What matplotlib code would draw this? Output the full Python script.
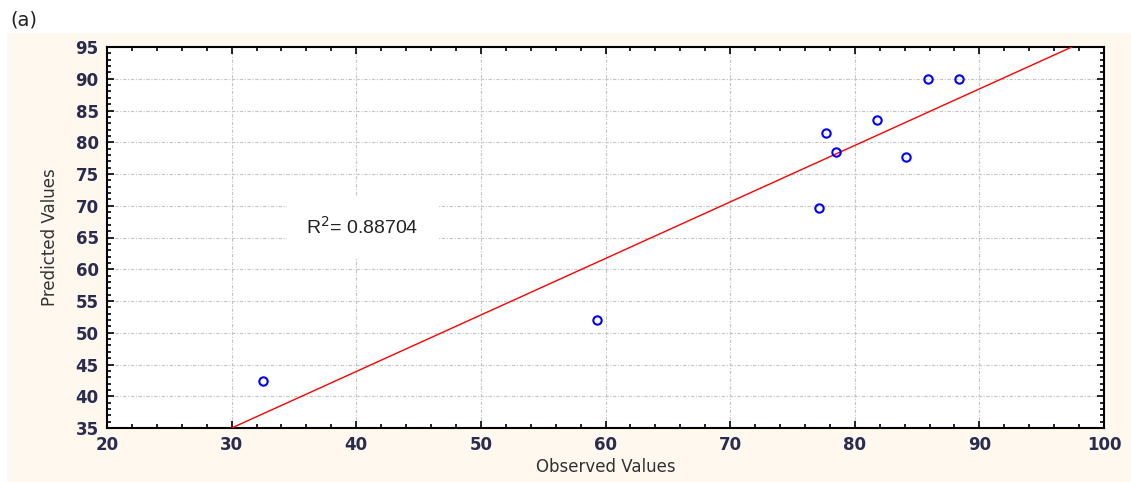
import matplotlib
matplotlib.use("agg")
import matplotlib.pyplot as plt
from matplotlib.patches import Rectangle
from matplotlib.ticker import MultipleLocator
import numpy as np

# observed vs predicted values
observed = [32.5, 59.3, 77.1, 77.7, 78.5, 81.8, 84.1, 85.9, 88.4]
predicted = [42.4, 52.0, 69.6, 81.5, 78.5, 83.5, 77.7, 90.0, 90.0]

fit_slope = 0.89
fit_intercept = 8.3
r2_label = "R$^2$= 0.88704"

x_ticks = [20, 30, 40, 50, 60, 70, 80, 90, 100]
y_ticks = [35, 40, 45, 50, 55, 60, 65, 70, 75, 80, 85, 90, 95]

tick_col = "#2b2b4f"

fig = plt.figure(figsize=(11.31, 4.82), dpi=100)
fig.patch.set_facecolor("white")
# cream panel behind the plot
fig.patches.append(Rectangle((7 / 1131, 0), 1 - 7 / 1131, 1 - 33 / 482,
                             transform=fig.transFigure, facecolor="#fef8ee",
                             edgecolor="none", zorder=-10))
fig.text(10 / 1131, 1 - 20 / 482, "(a)", fontsize=14, va="center", ha="left",
         color="#222222")

ax = fig.add_axes([107 / 1131, 1 - 428 / 482, 997 / 1131, 381 / 482])
ax.set_zorder(2)
ax.set_facecolor("white")

ax.set_xlim(20, 100)
ax.set_ylim(35, 95)
ax.set_xticks(x_ticks)
ax.set_yticks(y_ticks)
ax.xaxis.set_minor_locator(MultipleLocator(2))
ax.yaxis.set_minor_locator(MultipleLocator(1))

ax.grid(True, which="major", color="#c4c4c4", linestyle=(0, (3, 1.5, 1, 1.5)),
        linewidth=0.8)
ax.set_axisbelow(True)

ax.tick_params(which="both", direction="in", top=True, right=True,
               labelsize=12, labelcolor=tick_col, width=1.2)
ax.tick_params(which="major", length=5, pad=6)
ax.tick_params(which="minor", length=3)
for lab in ax.get_xticklabels() + ax.get_yticklabels():
    lab.set_fontweight("bold")
for sp in ax.spines.values():
    sp.set_linewidth(1.5)
    sp.set_color("black")

xl = np.array([20, 100])
ax.plot(xl, fit_intercept + fit_slope * xl, color="red", lw=1.0, zorder=3)

ax.plot(observed, predicted, linestyle="none", marker="o", markersize=6,
        markerfacecolor="none", markeredgecolor="blue", markeredgewidth=1.5,
        zorder=4)

ax.text(40.5, 66.6, r2_label, fontsize=14, ha="center", va="center",
        family=["Liberation Sans", "DejaVu Sans"], color="#222222",
        bbox=dict(facecolor="white", edgecolor="none", pad=14), zorder=5)

ax.set_xlabel("Observed Values", fontsize=12, color="#333333",
              labelpad=3, family=["DejaVu Sans"])
ax.set_ylabel("Predicted Values", fontsize=12, color="#333333",
              labelpad=12, family=["Liberation Sans Narrow", "DejaVu Sans"])

plt.savefig("out.png", dpi=100)
plt.close(fig)
